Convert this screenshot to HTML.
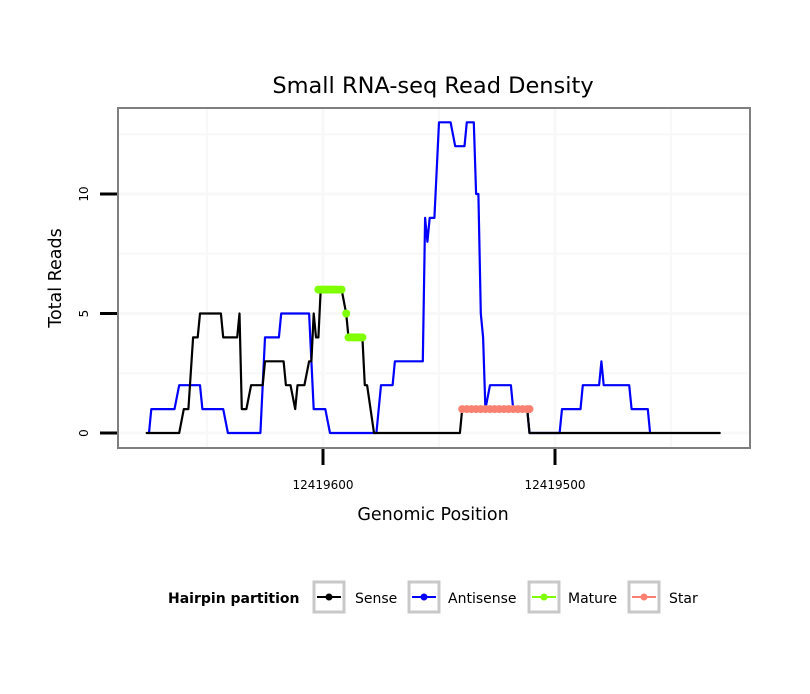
<!DOCTYPE html>
<html><head><meta charset="utf-8"><style>
body{margin:0;background:#fff;font-family:"DejaVu Sans","Liberation Sans",sans-serif}
svg text{font-family:"DejaVu Sans","Liberation Sans",sans-serif}
</style></head><body>
<svg id="chart" width="810" height="690" xmlns="http://www.w3.org/2000/svg">
<rect width="810" height="690" fill="#fff"/>
<text x="433" y="93" font-size="22.5" text-anchor="middle">Small RNA-seq Read Density</text>
<g id="grid"></g>
<g id="series"></g>
<rect x="118" y="108" width="632" height="340" fill="none" stroke="#7f7f7f" stroke-width="2"/>
<g id="axes"></g>
<text x="433" y="520" font-size="17.5" text-anchor="middle">Genomic Position</text>
<text transform="translate(61,278) rotate(-90)" font-size="17.5" text-anchor="middle">Total Reads</text>
<g>
<text x="168" y="603" font-size="14" font-weight="bold">Hairpin partition</text>
<g><rect x="314" y="582" width="30" height="30" fill="#fff" stroke="#c8c8c8" stroke-width="3"/><line x1="317" y1="597" x2="341" y2="597" stroke="#000" stroke-width="2"/><circle cx="329" cy="597" r="3.5" fill="#000"/><text x="355" y="603" font-size="14">Sense</text></g>
<g><rect x="409" y="582" width="30" height="30" fill="#fff" stroke="#c8c8c8" stroke-width="3"/><line x1="412" y1="597" x2="436" y2="597" stroke="#00f" stroke-width="2"/><circle cx="424" cy="597" r="3.5" fill="#00f"/><text x="448" y="603" font-size="14">Antisense</text></g>
<g><rect x="529" y="582" width="30" height="30" fill="#fff" stroke="#c8c8c8" stroke-width="3"/><line x1="532" y1="597" x2="556" y2="597" stroke="#7fff00" stroke-width="2"/><circle cx="544" cy="597" r="3.5" fill="#7fff00"/><text x="568" y="603" font-size="14">Mature</text></g>
<g><rect x="629" y="582" width="30" height="30" fill="#fff" stroke="#c8c8c8" stroke-width="3"/><line x1="632" y1="597" x2="656" y2="597" stroke="#fa8072" stroke-width="2"/><circle cx="644" cy="597" r="3.5" fill="#fa8072"/><text x="669" y="603" font-size="14">Star</text></g>
</g>
</svg>
<script>
const senseX=[12419676,12419662,12419660,12419658,12419656,12419654,12419653,12419644,12419643,12419637,12419636,12419635,12419633,12419631,12419626,12419625,12419617,12419616,12419614,12419612,12419611,12419608,12419606,12419605,12419604,12419603,12419602,12419601,12419592,12419590,12419589,12419583,12419582,12419581,12419578,12419541,12419540,12419512,12419511,12419429];
const senseY=[0,0,1,1,4,4,5,5,4,4,5,1,1,2,2,3,3,2,2,1,2,2,3,3,5,4,4,6,6,5,4,4,2,2,0,0,1,1,0,0];
const antiX=[12419675,12419674,12419664,12419662,12419653,12419652,12419643,12419641,12419627,12419625,12419619,12419618,12419606,12419604,12419599,12419597,12419577,12419575,12419570,12419569,12419557,12419556,12419555,12419554,12419552,12419550,12419545,12419543,12419539,12419538,12419535,12419534,12419533,12419532,12419531,12419530,12419528,12419519,12419518,12419512,12419511,12419498,12419497,12419489,12419488,12419481,12419480,12419479,12419468,12419467,12419460,12419459];
const antiY=[0,1,1,2,2,1,1,0,0,4,4,5,5,1,1,0,0,2,2,3,3,9,8,9,9,13,13,12,12,13,13,10,10,5,4,1,2,2,1,1,0,0,1,1,2,2,3,2,2,1,1,0];
const matureX=[12419602,12419601,12419600,12419599,12419598,12419597,12419596,12419595,12419594,12419593,12419592,12419590,12419589,12419588,12419587,12419586,12419585,12419584,12419583];
const matureY=[6,6,6,6,6,6,6,6,6,6,6,5,4,4,4,4,4,4,4];
const starX=[12419540,12419538,12419536,12419534,12419532,12419530,12419528,12419526,12419524,12419522,12419520,12419518,12419516,12419514,12419512,12419511];
const starY=[1,1,1,1,1,1,1,1,1,1,1,1,1,1,1,1];
const xTicks=[12419600,12419500];
const xTickLabels=["12419600","12419500"];
const yTicks=[0,5,10];
const yTickLabels=["0","5","10"];

const NS="http://www.w3.org/2000/svg";
function sx(v){return 323+(12419600-v)*2.32;}
function sy(v){return 433-v*23.9;}
function mk(tag,attrs,parent){const e=document.createElementNS(NS,tag);for(const k in attrs)e.setAttribute(k,attrs[k]);parent.appendChild(e);return e;}
const grid=document.getElementById('grid'),ser=document.getElementById('series'),ax=document.getElementById('axes');
[0,2.5,5,7.5,10,12.5].forEach(v=>{const l=mk('line',{x1:118,x2:750,y1:sy(v),y2:sy(v),stroke:'#f8f8f8','stroke-width':v%5===0?3:2},grid);

});
[12419650,12419600,12419550,12419500,12419450].forEach(v=>{const l=mk('line',{x1:sx(v),x2:sx(v),y1:108,y2:448,stroke:'#f8f8f8','stroke-width':v%100===0?3:2},grid);

});
function line(xs,ys,color,w,name){const p=xs.map((x,i)=>sx(x).toFixed(1)+','+sy(ys[i]).toFixed(1)).join(' ');
const e=mk('polyline',{points:p,fill:'none',stroke:color,'stroke-width':w,'stroke-linejoin':'round','stroke-linecap':'round'},ser);

}
line(antiX,antiY,'#0000ff',2.2,'antisense-line');
line(senseX,senseY,'#000000',2.2,'sense-line');
matureX.forEach((x,i)=>{const c=mk('circle',{cx:sx(x),cy:sy(matureY[i]),r:4,fill:'#7fff00'},ser);

});
starX.forEach((x,i)=>{const c=mk('circle',{cx:sx(x),cy:sy(starY[i]),r:4,fill:'#fa8072'},ser);

});
yTicks.forEach((v,i)=>{const t=mk('line',{x1:100,x2:117,y1:sy(v),y2:sy(v),stroke:'#000','stroke-width':3},ax);


const tx=mk('text',{transform:`translate(88,${sy(v)}) rotate(-90)`,'font-size':12,'text-anchor':'middle'},ax);tx.textContent=yTickLabels[i];

});
xTicks.forEach((v,i)=>{const t=mk('line',{x1:sx(v),x2:sx(v),y1:449,y2:465,stroke:'#000','stroke-width':3},ax);


const tx=mk('text',{x:sx(v),y:489,'font-size':12,'text-anchor':'middle'},ax);tx.textContent=xTickLabels[i];

});
</script>
</body></html>
